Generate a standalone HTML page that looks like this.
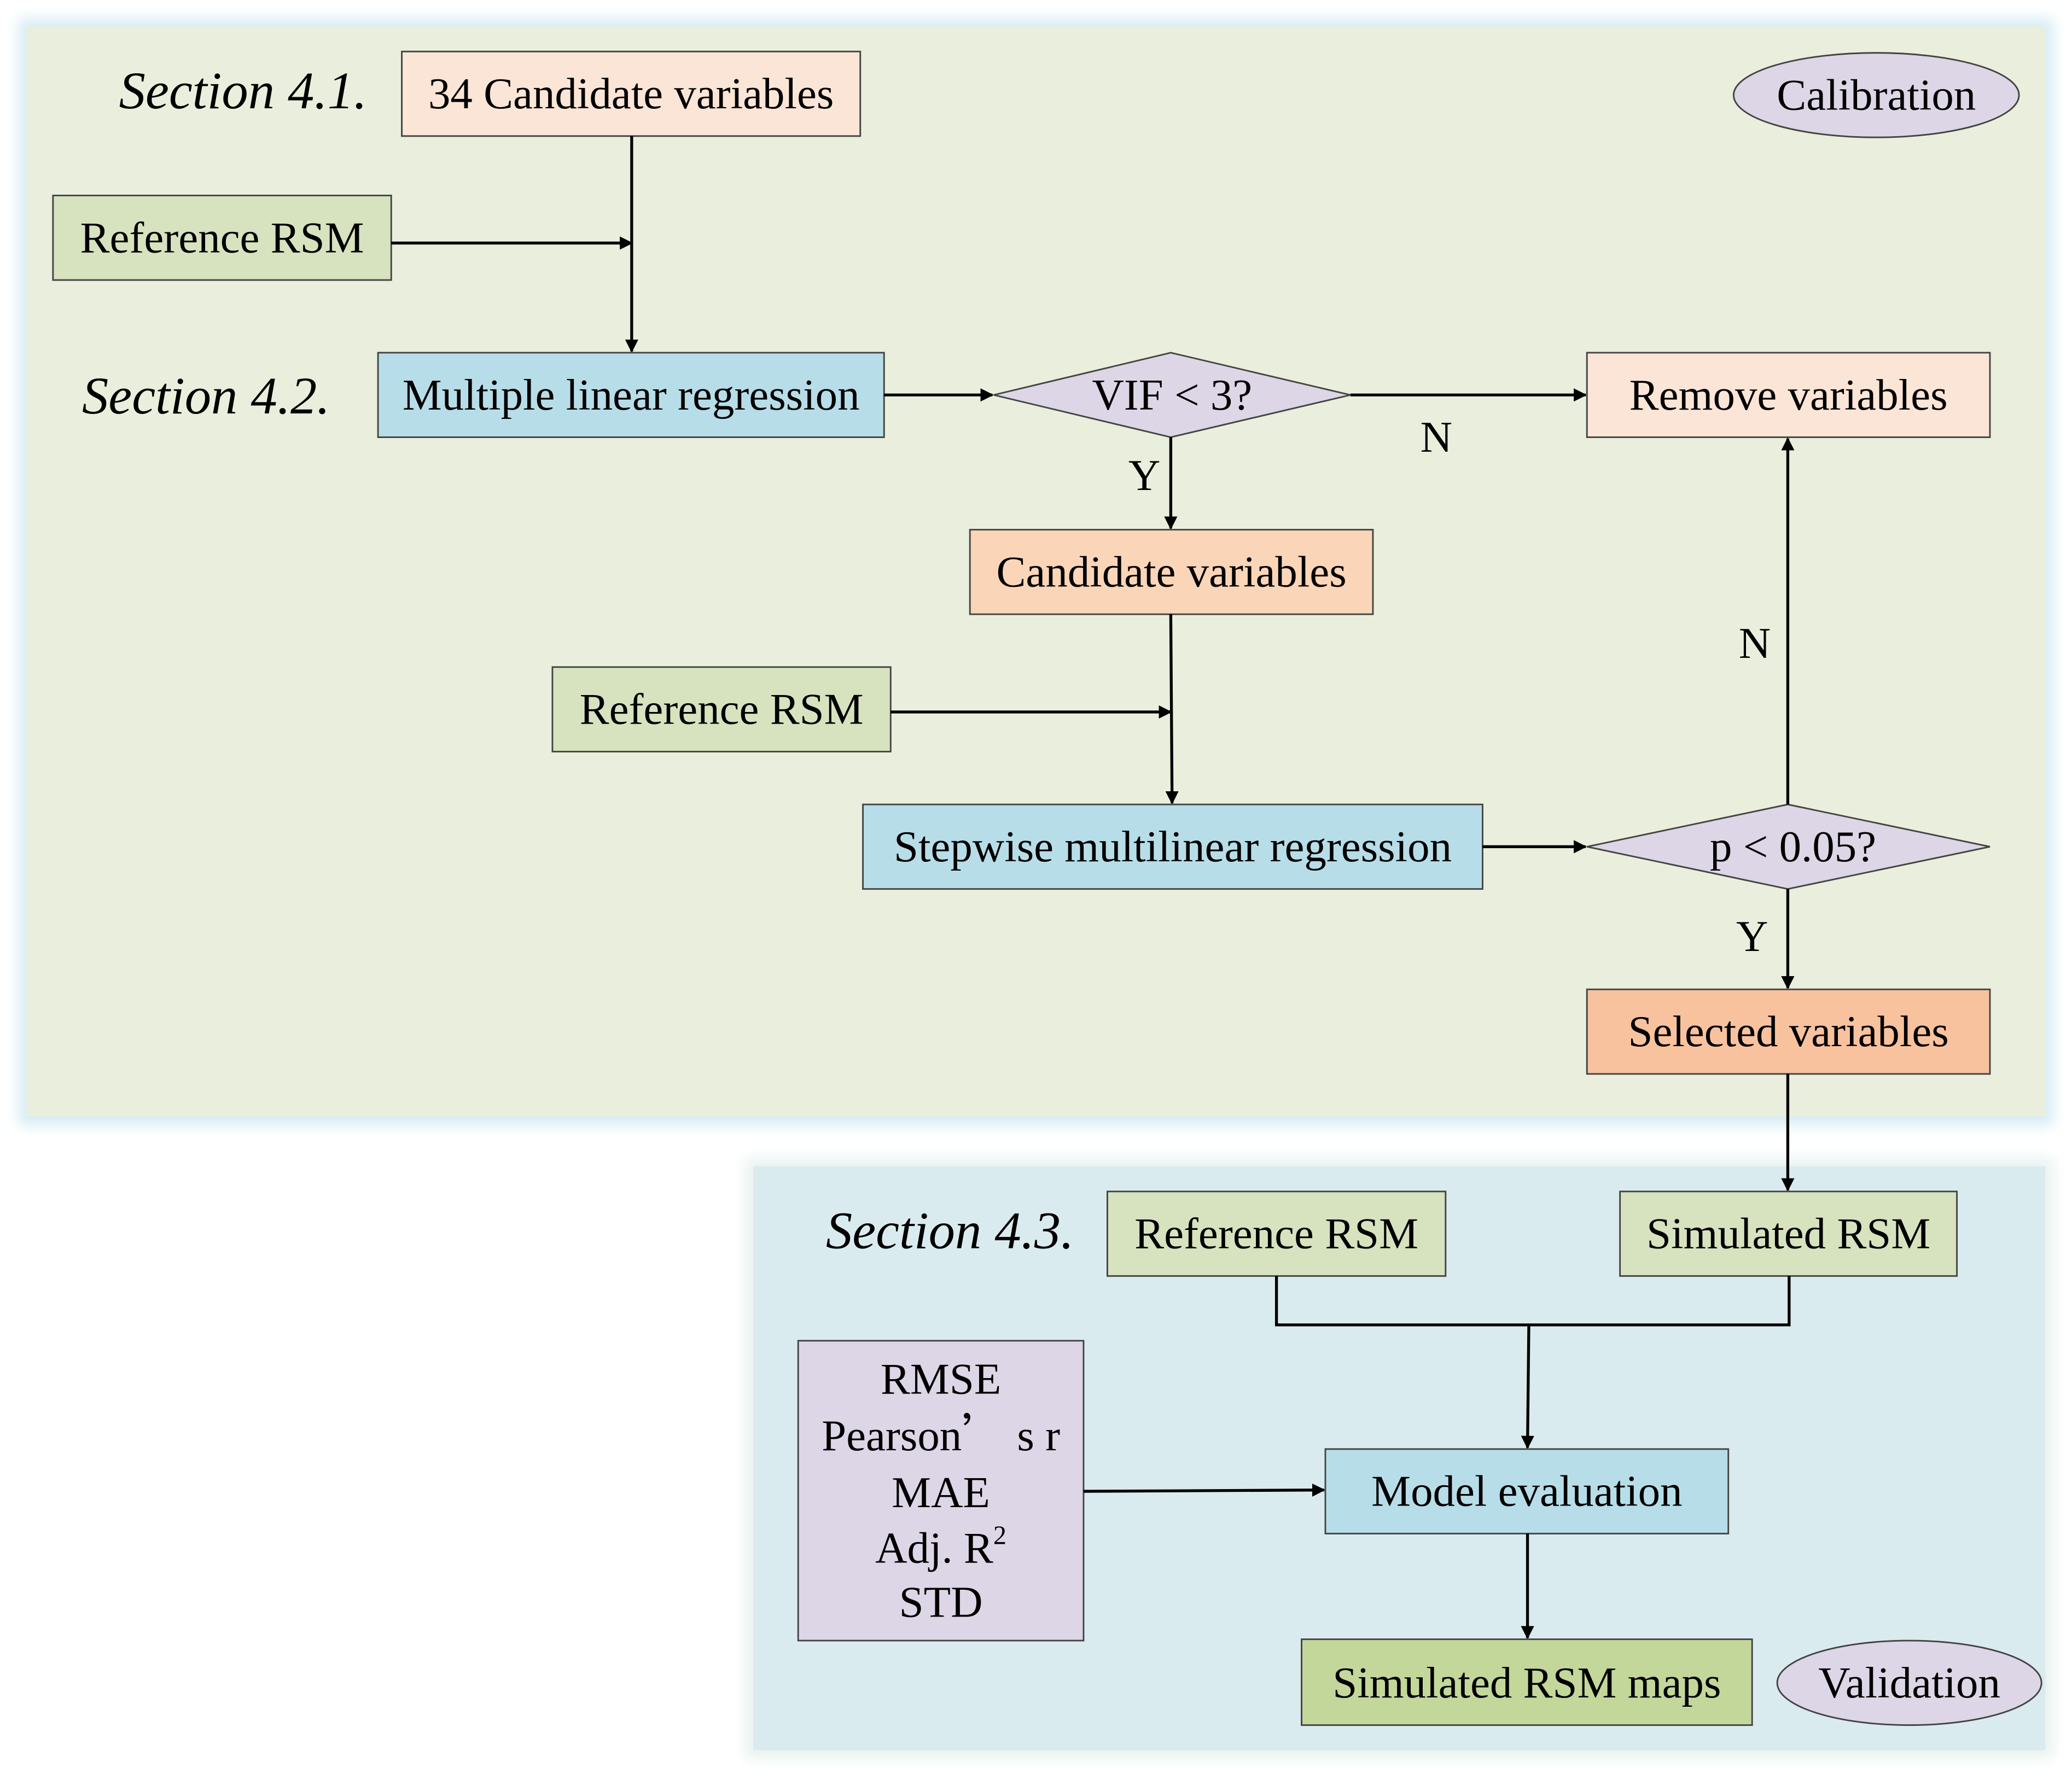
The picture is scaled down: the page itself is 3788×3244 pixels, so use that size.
<!DOCTYPE html>
<html><head><meta charset="utf-8"><style>
html,body{margin:0;padding:0;background:#fff;}
svg{display:block;}
text{font-family:"Liberation Serif",serif;font-size:33.5px;fill:#000;}
.it{font-style:italic;font-size:40px;}
.b{stroke:#444;stroke-width:1.2;}
.l{stroke:#000;stroke-width:2.2;fill:none;}
</style></head><body>
<svg width="3788" height="3244" viewBox="0 0 1568 1343" xmlns="http://www.w3.org/2000/svg">
<defs>
<marker id="a" markerWidth="10" markerHeight="10" refX="9" refY="5" orient="auto" markerUnits="userSpaceOnUse"><path d="M0,0 L10,5 L0,10 z" fill="#000"/></marker>
<filter id="g" x="-5%" y="-5%" width="110%" height="110%"><feGaussianBlur stdDeviation="5"/></filter>
</defs>
<rect x="14" y="14" width="1540" height="838" fill="#d6ecf4" filter="url(#g)"/>
<rect x="20" y="20" width="1528" height="825" fill="#e9efdc"/>
<rect x="564" y="877" width="990" height="454" fill="#e8f2f0" filter="url(#g)"/>
<rect x="570" y="883" width="978" height="442" fill="#daebf0"/>

<text class="it" x="90" y="82">Section 4.1.</text>
<text class="it" x="62" y="313">Section 4.2.</text>
<text class="it" x="625" y="945">Section 4.3.</text>

<rect class="b" x="304" y="39" width="347" height="64" fill="#fbe5d6"/>
<text x="477.5" y="82" text-anchor="middle">34 Candidate variables</text>
<ellipse class="b" cx="1420" cy="72" rx="108" ry="32" fill="#ddd6e6"/>
<text x="1420" y="83" text-anchor="middle">Calibration</text>

<rect class="b" x="40" y="148" width="256" height="64" fill="#d7e2bf"/>
<text x="168" y="191" text-anchor="middle">Reference RSM</text>
<line class="l" x1="296" y1="184" x2="478" y2="184" marker-end="url(#a)"/>
<line class="l" x1="478" y1="103" x2="478" y2="266" marker-end="url(#a)"/>

<rect class="b" x="286" y="267" width="383" height="64" fill="#b7dde8"/>
<text x="477.5" y="310" text-anchor="middle">Multiple linear regression</text>
<line class="l" x1="669" y1="299" x2="751" y2="299" marker-end="url(#a)"/>
<polygon class="b" points="752,299 886,267 1022,299 886,331" fill="#ddd6e6"/>
<text x="887" y="310" text-anchor="middle">VIF &lt; 3?</text>
<line class="l" x1="1022" y1="299" x2="1200" y2="299" marker-end="url(#a)"/>
<text x="1087" y="342" text-anchor="middle">N</text>
<rect class="b" x="1201" y="267" width="305" height="64" fill="#fbe5d6"/>
<text x="1353.5" y="310" text-anchor="middle">Remove variables</text>
<text x="866" y="371" text-anchor="middle">Y</text>
<line class="l" x1="886" y1="331" x2="886" y2="400" marker-end="url(#a)"/>
<rect class="b" x="734" y="401" width="305" height="64" fill="#fad5b8"/>
<text x="886.5" y="444" text-anchor="middle">Candidate variables</text>
<line class="l" x1="886" y1="465" x2="887" y2="608" marker-end="url(#a)"/>
<rect class="b" x="418" y="505" width="256" height="64" fill="#d7e2bf"/>
<text x="546" y="548" text-anchor="middle">Reference RSM</text>
<line class="l" x1="674" y1="539" x2="886" y2="539" marker-end="url(#a)"/>
<rect class="b" x="653" y="609" width="469" height="64" fill="#b7dde8"/>
<text x="887.5" y="652" text-anchor="middle">Stepwise multilinear regression</text>
<line class="l" x1="1122" y1="641" x2="1200" y2="641" marker-end="url(#a)"/>
<polygon class="b" points="1201,641 1353,609 1506,641 1353,673" fill="#ddd6e6"/>
<text x="1357" y="652" text-anchor="middle">p &lt; 0.05?</text>
<line class="l" x1="1353" y1="609" x2="1353" y2="332" marker-end="url(#a)"/>
<text x="1328" y="498" text-anchor="middle">N</text>
<text x="1326" y="720" text-anchor="middle">Y</text>
<line class="l" x1="1353" y1="673" x2="1353" y2="748" marker-end="url(#a)"/>
<rect class="b" x="1201" y="749" width="305" height="64" fill="#f8c29f"/>
<text x="1353.5" y="792" text-anchor="middle">Selected variables</text>
<line class="l" x1="1353" y1="813" x2="1353" y2="901" marker-end="url(#a)"/>

<rect class="b" x="838" y="902" width="256" height="64" fill="#d7e2bf"/>
<text x="966" y="945" text-anchor="middle">Reference RSM</text>
<rect class="b" x="1226" y="902" width="255" height="64" fill="#d7e2bf"/>
<text x="1353.5" y="945" text-anchor="middle">Simulated RSM</text>
<polyline class="l" points="966,966 966,1003 1354,1003 1354,966"/>
<line class="l" x1="1157" y1="1003" x2="1156" y2="1096" marker-end="url(#a)"/>
<rect class="b" x="604" y="1015" width="216" height="227" fill="#ddd6e6"/>
<text x="712" y="1055" text-anchor="middle">RMSE</text>
<text x="712" y="1098" text-anchor="middle">Pearson<tspan font-family="Noto Sans CJK SC">’</tspan> s r</text>
<text x="712" y="1141" text-anchor="middle">MAE</text>
<text x="712" y="1183" text-anchor="middle">Adj. R<tspan font-size="20" dy="-14">2</tspan></text>
<text x="712" y="1224" text-anchor="middle">STD</text>
<line class="l" x1="820" y1="1129" x2="1002" y2="1128" marker-end="url(#a)"/>
<rect class="b" x="1003" y="1097" width="305" height="64" fill="#b7dde8"/>
<text x="1155.5" y="1140" text-anchor="middle">Model evaluation</text>
<line class="l" x1="1156" y1="1161" x2="1156" y2="1240" marker-end="url(#a)"/>
<rect class="b" x="985" y="1241" width="341" height="65" fill="#c4d79b"/>
<text x="1155.5" y="1285" text-anchor="middle">Simulated RSM maps</text>
<ellipse class="b" cx="1445" cy="1274" rx="100" ry="32" fill="#ddd6e6"/>
<text x="1445" y="1285" text-anchor="middle">Validation</text>
</svg>
</body></html>
